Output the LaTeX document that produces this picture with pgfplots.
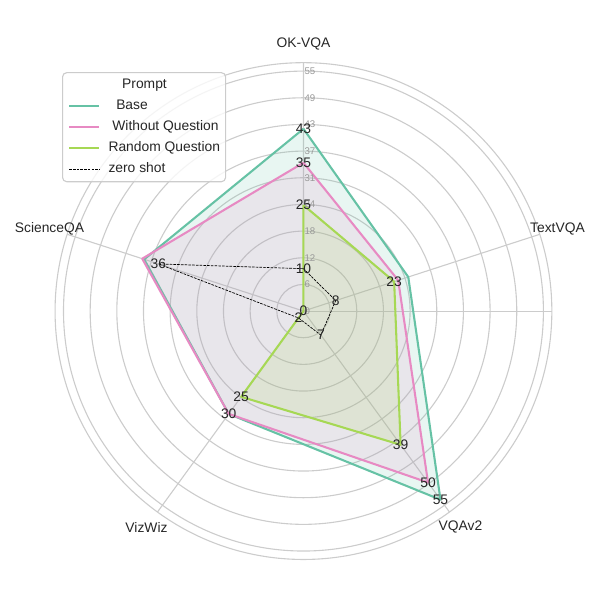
\documentclass[border=0pt]{standalone}
\usepackage{fontspec}
\setmainfont{Liberation Sans}
\usepackage{pgfplots}
\pgfplotsset{compat=1.18}
\usepgfplotslibrary{polar}
\definecolor{cbase}{HTML}{66C2A5}
\definecolor{cwoq}{HTML}{E78AC3}
\definecolor{crand}{HTML}{A6D854}
\definecolor{gridc}{HTML}{CCCCCC}
\definecolor{tickc}{HTML}{999999}
\definecolor{txt}{HTML}{262626}
\tikzset{
  rlab/.style={anchor=west, inner sep=0.6pt, text=tickc, font=\fontsize{7}{8}\selectfont},
  vlab/.style={inner sep=0pt, text=txt},
  clab/.style={text=txt},
}
\begin{document}
\begin{tikzpicture}
\begin{polaraxis}[
  scale only axis, width=359pt, height=359pt,
  ymin=0, ymax=58.6,
  xtick={18,90,162,234,306},
  xticklabels={},
  ytick={0,6.29,12.58,18.87,25.16,31.45,37.74,44.03,50.32,56.61},
  yticklabels={},
  grid=major,
  major grid style={draw=gridc, line width=0.8pt},
  axis line style={draw=gridc, line width=0.8pt},
  major tick length=0pt,
  clip=false,
  font=\fontsize{10}{12}\selectfont,
  legend cell align=left,
  legend image code/.code={\draw[#1] (0pt,0pt) -- (21.7pt,0pt);},
  legend style={at={(axis description cs:0.014,0.981)}, anchor=north west,
    draw=gridc, line width=0.8pt, rounded corners=3pt, fill=white, fill opacity=0.8, text opacity=1,
    inner xsep=4pt, inner ysep=4pt, row sep=5.2pt, column sep=6pt,
    nodes={inner sep=0pt, text height=7.5pt, text depth=2.5pt, text=txt},
    font=\fontsize{10}{12}\selectfont},
]
\addlegendimage{empty legend}
\addlegendentry{\makebox[0pt][l]{\hspace{9.4pt}Prompt}}
\addplot[cbase, line width=1.5pt, line join=round, fill=cbase, fill opacity=0.15]
  coordinates {(90,43) (18,26) (306,55) (234,30) (162,39.5) (90,43)};
\addlegendentry{\hspace{5.6pt}Base}
\addplot[cwoq, line width=1.5pt, line join=round, fill=cwoq, fill opacity=0.15]
  coordinates {(90,35) (18,23.5) (306,50) (234,30) (162,40) (90,35)};
\addlegendentry{\hspace{2.8pt}Without Question}
\addplot[crand, line width=1.5pt, line join=round, fill=crand, fill opacity=0.15]
  coordinates {(90,25) (18,22.5) (306,39) (234,25) (162,0) (90,25)};
\addlegendentry{Random Question}
\addplot[black, line width=0.5pt, dash pattern=on 1.9pt off 0.8pt]
  coordinates {(90,10) (18,8) (306,7) (234,2) (162,36) (90,10)};
\addlegendentry{zero shot}

\coordinate (c) at (axis cs:0,0);
% ring labels
\node[rlab] at (axis cs:90,0) {0};
\node[rlab] at (axis cs:90,6.29) {6};
\node[rlab] at (axis cs:90,12.58) {12};
\node[rlab] at (axis cs:90,18.87) {18};
\node[rlab] at (axis cs:90,25.16) {24};
\node[rlab] at (axis cs:90,31.45) {31};
\node[rlab] at (axis cs:90,37.74) {37};
\node[rlab] at (axis cs:90,44.03) {43};
\node[rlab] at (axis cs:90,50.32) {49};
\node[rlab] at (axis cs:90,56.61) {55};
% category labels
\node[clab] at (axis cs:90,63) {OK-VQA};
\node[clab] at (axis cs:18,63) {TextVQA};
\node[clab] at (axis cs:306,63) {VQAv2};
\node[clab] at (axis cs:234,63) {VizWiz};
\node[clab] at (axis cs:162,63) {ScienceQA};
% value labels
\node[vlab] at (axis cs:90,43) {43};
\node[vlab] at (axis cs:306,55) {55};
\node[vlab] at (axis cs:234,30) {30};
\node[vlab] at (axis cs:90,35) {35};
\node[vlab] at (axis cs:306,50) {50};
\node[vlab] at (axis cs:90,25) {25};
\node[vlab] at (axis cs:18,22.5) {23};
\node[vlab] at (axis cs:306,39) {39};
\node[vlab] at (axis cs:234,25) {25};
\node[vlab] at (axis cs:162,0) {0};
\node[vlab] at (axis cs:90,10) {10};
\node[vlab] at (axis cs:18,8) {8};
\node[vlab] at (axis cs:306,7) {7};
\node[vlab] at (axis cs:234,2) {2};
\node[vlab] at (axis cs:162,36) {36};
\end{polaraxis}
\pgfresetboundingbox
\path ([shift={(-219.3pt,-208.8pt)}]c) rectangle ([shift={(214.3pt,224.8pt)}]c);
\end{tikzpicture}
\end{document}
